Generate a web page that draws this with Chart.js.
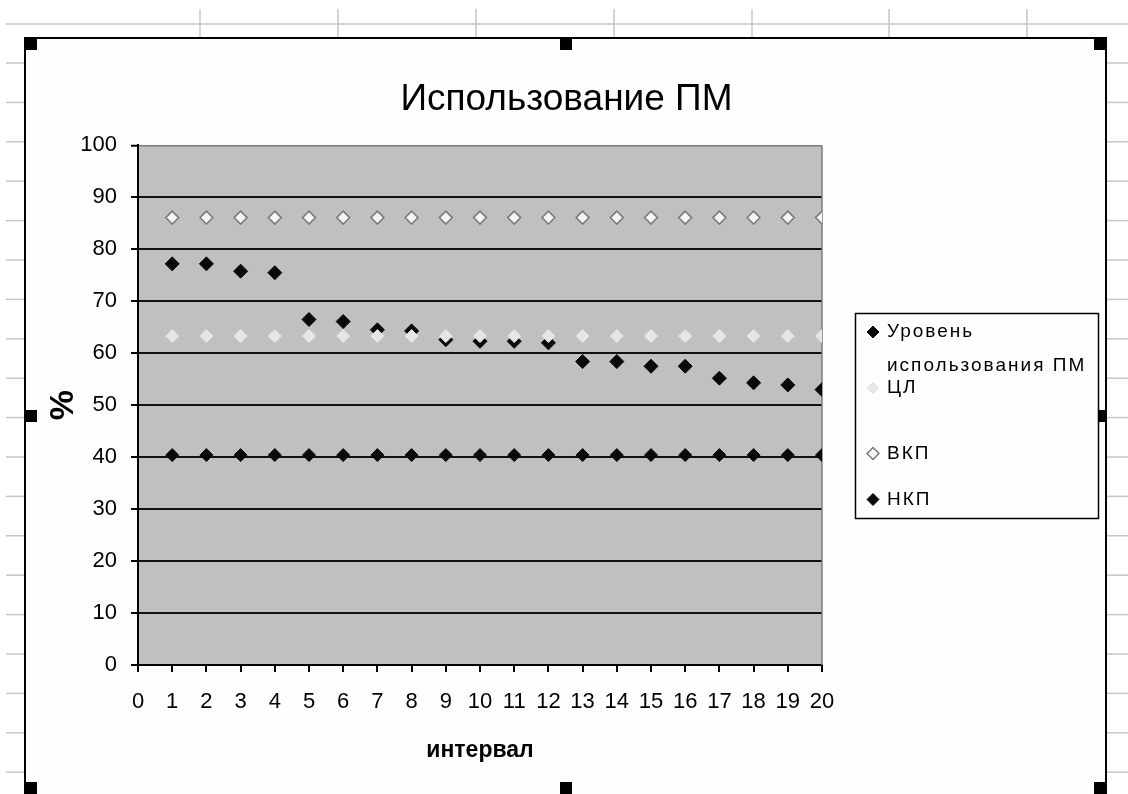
<!DOCTYPE html>
<html>
<head>
<meta charset="utf-8">
<title>Использование ПМ</title>
<script src="https://cdn.jsdelivr.net/npm/chart.js@4.4.1/dist/chart.umd.min.js"></script>
<style>
  html, body { margin: 0; padding: 0; background: #ffffff; }
  #wrap { position: relative; width: 1128px; height: 794px; }
  canvas { display: block; }
</style>
</head>
<body>
<div id="wrap"><canvas id="chart" width="1128" height="794"></canvas></div>
<script>
// Interval numbers (x axis)
const intervals = [1, 2, 3, 4, 5, 6, 7, 8, 9, 10, 11, 12, 13, 14, 15, 16, 17, 18, 19, 20];

// Уровень использования ПМ, %
const usageLevel = [77.2, 77.2, 75.8, 75.5, 66.5, 66.1, 64.5, 64.3, 62.6, 62.3,
                    62.3, 62.0, 58.4, 58.4, 57.5, 57.5, 55.2, 54.3, 53.9, 53.0];

// ЦЛ – центральная линия, %
const centerLine = [63.3, 63.3, 63.3, 63.3, 63.3, 63.3, 63.3, 63.3, 63.3, 63.3,
                    63.3, 63.3, 63.3, 63.3, 63.3, 63.3, 63.3, 63.3, 63.3, 63.3];

// ВКП – верхний контрольный предел, %
const upperLimit = [86.1, 86.1, 86.1, 86.1, 86.1, 86.1, 86.1, 86.1, 86.1, 86.1,
                    86.1, 86.1, 86.1, 86.1, 86.1, 86.1, 86.1, 86.1, 86.1, 86.1];

// НКП – нижний контрольный предел, %
const lowerLimit = [40.4, 40.4, 40.4, 40.4, 40.4, 40.4, 40.4, 40.4, 40.4, 40.4,
                    40.4, 40.4, 40.4, 40.4, 40.4, 40.4, 40.4, 40.4, 40.4, 40.4];

const seriesNames = ['Уровень использования ПМ', 'ЦЛ', 'ВКП', 'НКП'];
const xRange = [0, 20];
const yRange = [0, 100];

const FONT = "'Liberation Sans', Arial, sans-serif";

function toPoints(values) {
  return values.map((v, i) => ({ x: intervals[i], y: v }));
}

// Worksheet behind the embedded chart: cell grid, chart frame
const sheetBackdrop = {
  id: 'sheetBackdrop',
  beforeDraw(chart) {
    const ctx = chart.ctx;
    const W = chart.width, H = chart.height;
    ctx.save();
    ctx.fillStyle = '#ffffff';
    ctx.fillRect(0, 0, W, H);
    ctx.strokeStyle = '#c6c6c6';
    ctx.lineWidth = 1.5;
    // column separators above the frame
    [200, 338, 476, 614, 752, 889, 1027].forEach(x => {
      ctx.beginPath(); ctx.moveTo(x, 9); ctx.lineTo(x, 38); ctx.stroke();
    });
    // row separators
    ctx.beginPath(); ctx.moveTo(6, 24); ctx.lineTo(W, 24); ctx.stroke();
    for (let y = 63; y < H; y += 39.4) {
      ctx.beginPath(); ctx.moveTo(6, y); ctx.lineTo(25, y); ctx.stroke();
      ctx.beginPath(); ctx.moveTo(1106, y); ctx.lineTo(W, y); ctx.stroke();
    }
    // chart frame
    ctx.fillStyle = '#fefefe';
    ctx.fillRect(25, 38, 1081, H - 38);
    ctx.strokeStyle = '#000000';
    ctx.lineWidth = 2;
    ctx.beginPath();
    ctx.moveTo(25, H); ctx.lineTo(25, 38); ctx.lineTo(1106, 38); ctx.lineTo(1106, H);
    ctx.stroke();
    // plot area fill
    const a = chart.chartArea;
    ctx.fillStyle = '#c0c0c0';
    ctx.fillRect(a.left, a.top, a.right - a.left, a.bottom - a.top);
    ctx.restore();
  },
  beforeDatasetsDraw(chart) {
    // right edge of the plot area
    const a = chart.chartArea;
    const ctx = chart.ctx;
    ctx.save();
    ctx.strokeStyle = '#7c7c7c';
    ctx.lineWidth = 1.5;
    ctx.beginPath();
    ctx.moveTo(a.right, a.top); ctx.lineTo(a.right, a.bottom);
    ctx.stroke();
    ctx.restore();
  },
  afterDraw(chart) {
    // selection handles of the chart object
    const ctx = chart.ctx;
    const H = chart.height;
    ctx.save();
    ctx.fillStyle = '#000000';
    [[25, 38], [560, 38], [1094, 38], [25, 410], [1094, 410], [25, H - 12], [560, H - 12], [1094, H - 12]]
      .forEach(([x, y]) => ctx.fillRect(x, y, 12, 12));
    ctx.restore();
  }
};

function diamond(ctx, x, y, r) {
  ctx.beginPath();
  ctx.moveTo(x, y - r); ctx.lineTo(x + r, y); ctx.lineTo(x, y + r); ctx.lineTo(x - r, y);
  ctx.closePath();
}

// Legend box on the right, built from the datasets
const sideLegend = {
  id: 'sideLegend',
  afterDraw(chart) {
    const ctx = chart.ctx;
    const box = { left: 855.5, top: 313.5, right: 1098.5, bottom: 518.5 };
    const rowY = [332, 388, 453.5, 499.5];
    const markerX = 873, textX = 887, lineStep = 34;
    ctx.save();
    ctx.fillStyle = '#fefefe';
    ctx.fillRect(box.left, box.top, box.right - box.left, box.bottom - box.top);
    ctx.strokeStyle = '#000000';
    ctx.lineWidth = 1.5;
    ctx.strokeRect(box.left, box.top, box.right - box.left, box.bottom - box.top);
    ctx.font = '19px ' + FONT;
    ctx.letterSpacing = '2px';
    ctx.textBaseline = 'middle';
    ctx.textAlign = 'left';
    chart.data.datasets.forEach((ds, i) => {
      const y = rowY[i];
      diamond(ctx, markerX, y, 6);
      ctx.fillStyle = ds.backgroundColor;
      ctx.fill();
      ctx.lineWidth = ds.borderWidth;
      ctx.strokeStyle = ds.borderColor;
      ctx.stroke();
      // wrap the label to the box width
      const words = ds.label.split(' ');
      const lines = [];
      let cur = '';
      words.forEach(w => {
        const test = cur ? cur + ' ' + w : w;
        if (cur && ctx.measureText(test).width > box.right - textX + 2) { lines.push(cur); cur = w; }
        else cur = test;
      });
      lines.push(cur);
      ctx.fillStyle = '#000000';
      lines.forEach((ln, k) => ctx.fillText(ln, textX, y + k * lineStep));
    });
    ctx.restore();
  }
};

const chart = new Chart(document.getElementById('chart'), {
  type: 'scatter',
  data: {
    datasets: [
      {
        label: seriesNames[0], data: toPoints(usageLevel), order: 1,
        pointStyle: 'rectRot', radius: 7, hoverRadius: 7,
        backgroundColor: '#0a0a0a', borderColor: '#0a0a0a', borderWidth: 1
      },
      {
        label: seriesNames[1], data: toPoints(centerLine), order: 0,
        pointStyle: 'rectRot', radius: 6.5, hoverRadius: 6.5,
        backgroundColor: '#e6e6e6', borderColor: '#e6e6e6', borderWidth: 1
      },
      {
        label: seriesNames[2], data: toPoints(upperLimit), order: 0,
        pointStyle: 'rectRot', radius: 6.5, hoverRadius: 6.5,
        backgroundColor: '#f4f4f4', borderColor: '#7a7a7a', borderWidth: 1.5
      },
      {
        label: seriesNames[3], data: toPoints(lowerLimit), order: 0,
        pointStyle: 'rectRot', radius: 6.5, hoverRadius: 6.5,
        backgroundColor: '#0a0a0a', borderColor: '#0a0a0a', borderWidth: 1
      }
    ]
  },
  options: {
    responsive: false,
    animation: false,
    devicePixelRatio: 1,
    events: [],
    layout: { padding: { left: 5, right: 0, top: 0, bottom: 0 } },
    plugins: {
      legend: { display: false },
      tooltip: { enabled: false },
      title: {
        display: true,
        text: 'Использование ПМ',
        color: '#000000',
        font: { family: FONT, size: 37, weight: 'normal', lineHeight: 1.2 },
        padding: { top: 78, bottom: 23 }
      }
    },
    scales: {
      x: {
        type: 'linear',
        position: 'bottom',
        min: xRange[0], max: xRange[1],
        afterFit(scale) { scale.height = 129; },
        border: { display: true, color: '#000000', width: 2 },
        grid: { display: true, drawOnChartArea: false, drawTicks: true, tickLength: 7, color: '#000000', lineWidth: 2 },
        ticks: {
          stepSize: 1, autoSkip: false, maxRotation: 0, minRotation: 0, padding: 17,
          color: '#000000', font: { family: FONT, size: 22 }
        },
        title: {
          display: true, text: 'интервал', color: '#000000',
          font: { family: FONT, size: 23, weight: 'bold', lineHeight: 1.2 },
          padding: { top: 0, bottom: 30 }
        }
      },
      y: {
        type: 'linear',
        position: 'left',
        min: yRange[0], max: yRange[1],
        afterFit(scale) { scale.width = 133; },
        border: { display: true, color: '#000000', width: 2 },
        grid: {
          display: true, drawTicks: true, tickLength: 7,
          color: c => (c.tick && c.tick.value === 100 ? '#7c7c7c' : '#111111'),
          lineWidth: c => (c.tick && c.tick.value === 100 ? 1.5 : 2),
          tickColor: '#000000', tickWidth: 2
        },
        ticks: {
          stepSize: 10, padding: 14,
          color: '#000000', font: { family: FONT, size: 22 }
        },
        title: {
          display: true, text: '%', color: '#000000',
          font: { family: FONT, size: 34, weight: 'bold', lineHeight: 1.2 },
          padding: { top: 38, bottom: 0 }
        }
      },
      legendSpace: {
        type: 'linear',
        position: 'right',
        display: true,
        afterFit(scale) { scale.width = 306; },
        border: { display: false },
        grid: { display: false, drawTicks: false },
        ticks: { display: false }
      }
    }
  },
  plugins: [sheetBackdrop, sideLegend]
});
</script>
</body>
</html>
